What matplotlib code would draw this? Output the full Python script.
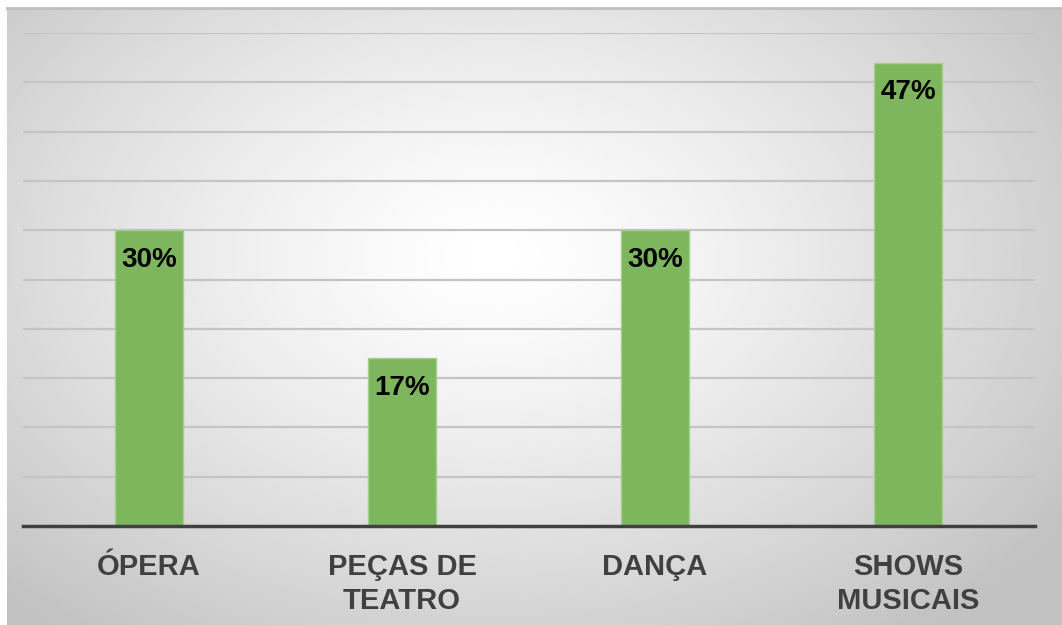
import matplotlib.pyplot as plt
import numpy as np

categories = ['ÓPERA', 'PEÇAS DE\nTEATRO', 'DANÇA', 'SHOWS\nMUSICAIS']
values = [30, 17, 30, 47]
labels = ['30%', '17%', '30%', '47%']

plt.rcParams['font.family'] = ['Liberation Sans', 'DejaVu Sans']

W, H = 1062, 625
fig = plt.figure(figsize=(W / 100, H / 100), dpi=100)

# background panel with radial gradient
bg = fig.add_axes([7 / W, 0, 1 - 7 / W, 1 - 8 / H])
yy, xx = np.mgrid[0:300, 0:500]
cx, cy = 230, 120
r = np.sqrt(((xx - cx) / 330) ** 2 + ((yy - cy) / 230) ** 2)
shade = np.clip(1.0 - 0.24 * r ** 1.3, 0.76, 1.0)
bg.imshow(shade, cmap='gray', vmin=0, vmax=1, aspect='auto', extent=[0, 1, 0, 1])
bg.set_xticks([])
bg.set_yticks([])
for s in ['left', 'right', 'bottom']:
    bg.spines[s].set_visible(False)
bg.spines['top'].set_color('#bfbfbf')
bg.spines['top'].set_linewidth(2)

# plot axes
ax = fig.add_axes([22.5 / W, 1 - 526 / H, (1034.5 - 22.5) / W, (526 - 33) / H])
ax.patch.set_alpha(0)
x = np.arange(len(categories))
ax.bar(x, values, width=0.27, color='#7db65d', edgecolor='#a6cf8e', linewidth=1, zorder=3)
ax.set_xlim(-0.5, len(categories) - 0.5)
ax.set_ylim(0, 50)
ax.set_yticks(np.arange(5, 51, 5))
ax.yaxis.grid(True, color='#c4c4c4', linewidth=1.6, zorder=0)
ax.tick_params(axis='y', left=False, labelleft=False)
ax.tick_params(axis='x', bottom=False, pad=16)
ax.set_xticks(x)
ax.set_xticklabels(categories, fontsize=21, fontweight='bold', color='#404040', linespacing=1.25, va='top')
for s in ['left', 'right', 'top']:
    ax.spines[s].set_visible(False)
ax.spines['bottom'].set_color('#404040')
ax.spines['bottom'].set_linewidth(2.5)
ax.spines['bottom'].set_zorder(4)

for xi, v, lab in zip(x, values, labels):
    ax.annotate(lab, (xi, v), xytext=(0, -12), textcoords='offset points',
                ha='center', va='top', fontsize=20, fontweight='bold', color='black', zorder=5)

fig.savefig('out.png', dpi=100)
